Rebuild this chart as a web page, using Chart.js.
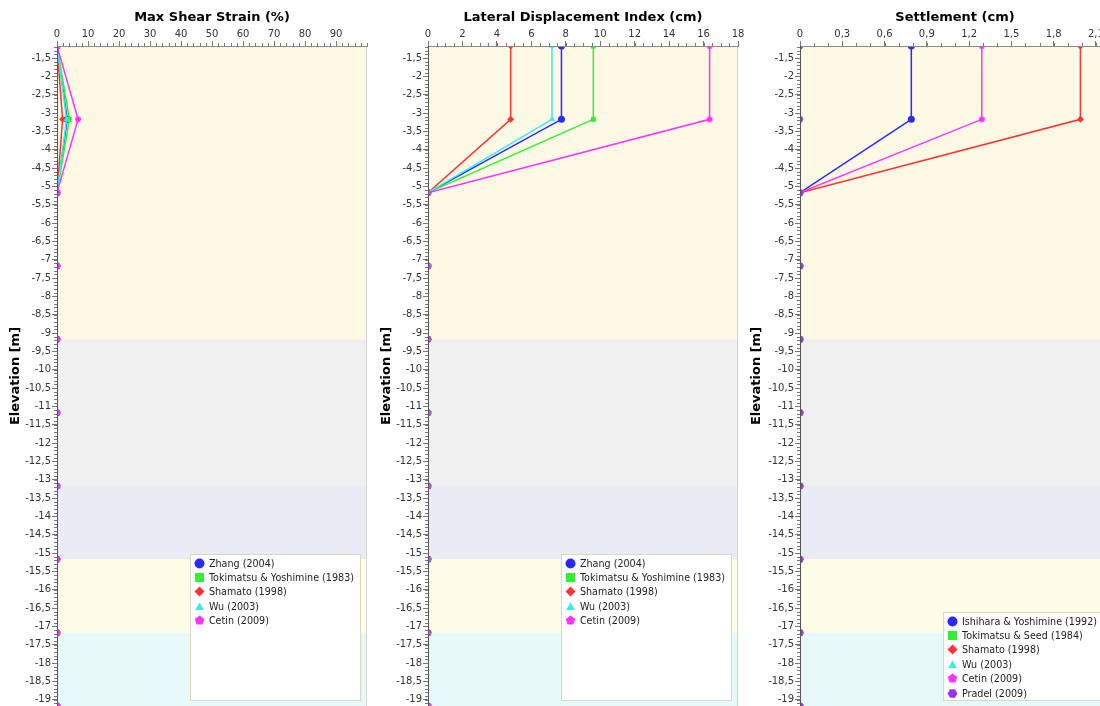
<!DOCTYPE html>
<html lang="en">
<head>
    <meta charset="UTF-8">
    <title>Liquefaction profile</title>
    <script src="https://cdn.jsdelivr.net/npm/chart.js"></script>
    <style>
        body { margin: 0; background: #fff; width: 1100px; height: 706px; overflow: hidden; position: relative; }
        .panel { position: absolute; top: 0; }
        .legend { position: absolute; background: #fff; border: 1px solid #d8d8c4; box-sizing: border-box;
                  padding: 1px 6px 0 3px; font: 9.6px "DejaVu Sans", sans-serif; color: #222; }
        .legend div { height: 14.4px; display: flex; align-items: center; white-space: nowrap; }
        .legend canvas { margin-right: 4px; }
    </style>
</head>
<body>
    <canvas id="strainChart" class="panel"></canvas>
    <canvas id="ldiChart" class="panel"></canvas>
    <canvas id="settleChart" class="panel"></canvas>
    <script>
        // 깊이 (m)
        const depths = [-1.17, -3.17, -5.17, -7.17, -9.17, -11.17, -13.17, -15.17, -17.17, -19.17];

        // 지층 경계와 색
        const layerBounds = [-1.17, -9.17, -13.17, -15.17, -17.17, -19.17];
        const layerColors = ['#fef9e4', '#f0f0f0', '#ebebf6', '#fefde8', '#e6f8f8'];

        // 최대 전단 변형률 (%)
        const strainNames = ['Zhang (2004)', 'Tokimatsu & Yoshimine (1983)', 'Shamato (1998)', 'Wu (2003)', 'Cetin (2009)'];
        const strainZhang     = [0, 3.3, 0, 0, 0, 0, 0, 0, 0, 0];
        const strainTokimatsu = [0, 4.0, 0, 0, 0, 0, 0, 0, 0, 0];
        const strainShamato   = [0, 1.8, 0, 0, 0, 0, 0, 0, 0, 0];
        const strainWu        = [0, 3.1, 0, 0, 0, 0, 0, 0, 0, 0];
        const strainCetin     = [0, 6.8, 0, 0, 0, 0, 0, 0, 0, 0];

        // 측방 변위 지수 (cm)
        const ldiNames = ['Zhang (2004)', 'Tokimatsu & Yoshimine (1983)', 'Shamato (1998)', 'Wu (2003)', 'Cetin (2009)'];
        const ldiZhang     = [7.75, 7.75, 0, 0, 0, 0, 0, 0, 0, 0];
        const ldiTokimatsu = [9.6, 9.6, 0, 0, 0, 0, 0, 0, 0, 0];
        const ldiShamato   = [4.8, 4.8, 0, 0, 0, 0, 0, 0, 0, 0];
        const ldiWu        = [7.2, 7.2, 0, 0, 0, 0, 0, 0, 0, 0];
        const ldiCetin     = [16.35, 16.35, 0, 0, 0, 0, 0, 0, 0, 0];

        // 침하량 (cm)
        const settleNames = ['Ishihara & Yoshimine (1992)', 'Tokimatsu & Seed (1984)', 'Shamato (1998)', 'Wu (2003)', 'Cetin (2009)', 'Pradel (2009)'];
        const settleIshihara = [0.79, 0.79, 0, 0, 0, 0, 0, 0, 0, 0];
        const settleTokimatsu = [0, 0, 0, 0, 0, 0, 0, 0, 0, 0];
        const settleShamato  = [1.99, 1.99, 0, 0, 0, 0, 0, 0, 0, 0];
        const settleWu       = [0, 0, 0, 0, 0, 0, 0, 0, 0, 0];
        const settleCetin    = [1.29, 1.29, 0, 0, 0, 0, 0, 0, 0, 0];
        const settlePradel   = [0, 0, 0, 0, 0, 0, 0, 0, 0, 0];

        // 눈금
        const strainTicks = [0, 10, 20, 30, 40, 50, 60, 70, 80, 90];
        const ldiTicks = [0, 2, 4, 6, 8, 10, 12, 14, 16, 18];
        const settleTicks = [0, 0.3, 0.6, 0.9, 1.2, 1.5, 1.8, 2.1];
        const depthTicks = [-1.5, -2, -2.5, -3, -3.5, -4, -4.5, -5, -5.5, -6, -6.5, -7, -7.5, -8, -8.5, -9,
            -9.5, -10, -10.5, -11, -11.5, -12, -12.5, -13, -13.5, -14, -14.5, -15, -15.5, -16, -16.5, -17,
            -17.5, -18, -18.5, -19];

        const colors = ['#2a2aff', '#33ee33', '#ff3333', '#33eeee', '#ff33ff', '#9933ee'];
        const shapes = ['circle', 'rect', 'rectRot', 'triangle', 'pentagon', 'hexagon'];
        const FONT = '"DejaVu Sans", sans-serif';

        // 마커 그리기 (범례 + 오각형/육각형 점)
        function marker(shape, color, size) {
            const c = document.createElement('canvas');
            c.width = c.height = size;
            const g = c.getContext('2d');
            const m = size / 2, r = size / 2 - 0.5;
            g.fillStyle = color;
            g.beginPath();
            if (shape === 'circle') {
                g.arc(m, m, r, 0, Math.PI * 2);
            } else if (shape === 'rect') {
                g.rect(m - r * 0.9, m - r * 0.9, r * 1.8, r * 1.8);
            } else {
                const n = { rectRot: 4, triangle: 3, pentagon: 5, hexagon: 6 }[shape];
                const start = shape === 'hexagon' ? 0 : -Math.PI / 2;
                for (let k = 0; k < n; k++) {
                    const a = start + k * 2 * Math.PI / n;
                    const px = m + r * Math.cos(a), py = m + r * Math.sin(a) + (shape === 'triangle' ? r * 0.2 : 0);
                    k === 0 ? g.moveTo(px, py) : g.lineTo(px, py);
                }
                g.closePath();
            }
            g.fill();
            return c;
        }

        function fmt(v) {
            return String(Math.round(v * 100) / 100).replace('.', ',');
        }

        const layerPlugin = {
            id: 'layers',
            beforeDraw(chart) {
                const { ctx, chartArea: a, scales: { y } } = chart;
                ctx.save();
                for (let i = 0; i < layerColors.length; i++) {
                    const t = y.getPixelForValue(layerBounds[i]);
                    const b = y.getPixelForValue(layerBounds[i + 1]);
                    ctx.fillStyle = layerColors[i];
                    ctx.fillRect(a.left, t, a.right - a.left, b - t);
                }
                ctx.strokeStyle = '#d4d4d4';
                ctx.beginPath();
                ctx.moveTo(a.right - 0.5, a.top);
                ctx.lineTo(a.right - 0.5, a.bottom);
                ctx.stroke();
                ctx.restore();
            }
        };

        const minorTickPlugin = {
            id: 'minorTicks',
            afterDraw(chart, args, opts) {
                const { ctx, chartArea: a, scales: { x, y } } = chart;
                ctx.save();
                ctx.strokeStyle = '#777';
                ctx.lineWidth = 1;
                ctx.beginPath();
                for (let k = 0; k * opts.xStep <= x.max + 1e-9; k++) {
                    const px = Math.round(x.getPixelForValue(k * opts.xStep)) + 0.5;
                    ctx.moveTo(px, a.top);
                    ctx.lineTo(px, a.top - 3);
                }
                for (let k = Math.ceil(y.min * 10); k <= Math.floor(y.max * 10); k++) {
                    const py = Math.round(y.getPixelForValue(k / 10)) + 0.5;
                    ctx.moveTo(a.left, py);
                    ctx.lineTo(a.left - 3, py);
                }
                ctx.stroke();
                ctx.restore();
            }
        };

        function makePanel(id, left, axisWidth, title, xMax, xTicks, xStep, names, series, legendHeight) {
            const canvas = document.getElementById(id);
            canvas.width = axisWidth + 310 + 13;
            canvas.height = 706;
            canvas.style.left = left + 'px';

            const datasets = series.map((vals, i) => ({
                label: names[i],
                data: depths.map((d, j) => ({ x: vals[j], y: d })),
                borderColor: colors[i],
                backgroundColor: colors[i],
                borderWidth: 1.5,
                pointRadius: 3.5,
                pointBorderWidth: 0,
                pointStyle: (shapes[i] === 'pentagon' || shapes[i] === 'hexagon') ? marker(shapes[i], colors[i], 8) : shapes[i],
                tension: 0,
                clip: 0,
                order: series.length - i
            }));

            const chart = new Chart(canvas.getContext('2d'), {
                type: 'line',
                data: { datasets },
                options: {
                    responsive: false,
                    animation: false,
                    layout: { autoPadding: false, padding: { left: 0, right: 13, top: 0, bottom: 0 } },
                    plugins: {
                        legend: { display: false },
                        tooltip: { enabled: false },
                        minorTicks: { xStep }
                    },
                    scales: {
                        x: {
                            type: 'linear',
                            position: 'top',
                            min: 0,
                            max: xMax,
                            afterBuildTicks: s => { s.ticks = xTicks.map(v => ({ value: v })); },
                            afterFit: s => { s.height = 46; s.paddingLeft = 0; s.paddingRight = 0; },
                            ticks: { color: '#333', font: { family: FONT, size: 10 }, padding: 1, maxRotation: 0, autoSkip: false, callback: v => fmt(v) },
                            grid: { drawOnChartArea: false, tickLength: 5, color: '#777' },
                            border: { color: '#8a8a8a', z: 1 },
                            title: { display: true, text: title, color: '#000', font: { family: FONT, size: 13, weight: 'bold' }, padding: { top: 10, bottom: 0 } }
                        },
                        y: {
                            type: 'linear',
                            min: -19.17,
                            max: -1.17,
                            afterBuildTicks: s => { s.ticks = depthTicks.map(v => ({ value: v })); },
                            afterFit: s => { s.width = axisWidth; s.paddingTop = 0; s.paddingBottom = 0; },
                            ticks: { color: '#333', font: { family: FONT, size: 10 }, padding: 1, autoSkip: false, callback: v => fmt(v) },
                            grid: { drawOnChartArea: false, tickLength: 5, color: '#777' },
                            border: { color: '#555', z: 1 },
                            title: { display: true, text: 'Elevation [m]', color: '#000', font: { family: FONT, size: 13, weight: 'bold' }, padding: { top: 8, bottom: 0 } }
                        }
                    }
                },
                plugins: [layerPlugin, minorTickPlugin]
            });

            // 범례
            const a = chart.chartArea;
            const box = document.createElement('div');
            box.className = 'legend';
            box.style.right = (1100 - (left + a.right - 6)) + 'px';
            box.style.top = (a.bottom - 5 - legendHeight) + 'px';
            box.style.height = legendHeight + 'px';
            names.forEach((name, i) => {
                const row = document.createElement('div');
                row.appendChild(marker(shapes[i], colors[i], 11));
                row.appendChild(document.createTextNode(name));
                box.appendChild(row);
            });
            document.body.appendChild(box);
            return chart;
        }

        makePanel('strainChart', 0, 57, 'Max Shear Strain (%)', 100, strainTicks, 2, strainNames,
            [strainZhang, strainTokimatsu, strainShamato, strainWu, strainCetin], 147);
        makePanel('ldiChart', 371, 57, 'Lateral Displacement Index (cm)', 18, ldiTicks, 0.5, ldiNames,
            [ldiZhang, ldiTokimatsu, ldiShamato, ldiWu, ldiCetin], 147);
        makePanel('settleChart', 741, 59, 'Settlement (cm)', 2.2, settleTicks, 0.1, settleNames,
            [settleIshihara, settleTokimatsu, settleShamato, settleWu, settleCetin, settlePradel], 89);
    </script>
</body>
</html>
